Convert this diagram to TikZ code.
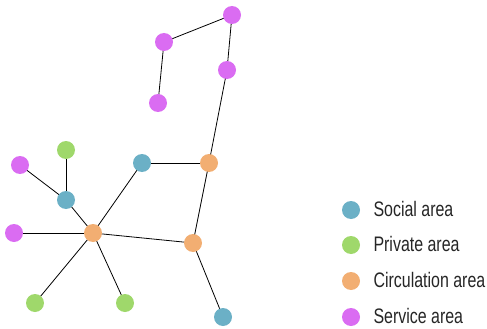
\documentclass[tikz,border=0pt]{standalone}
\usepackage{fontspec}
\setmainfont[FakeStretch=0.76]{Liberation Sans}
\usetikzlibrary{backgrounds}
\definecolor{socialc}{HTML}{6BB0C6}
\definecolor{privatec}{HTML}{9FD86B}
\definecolor{circc}{HTML}{F2AE72}
\definecolor{servc}{HTML}{DA6CF2}
\tikzset{
	room/.style={circle,inner sep=0pt,minimum size=18pt},
	social/.style={room,fill=socialc},
	private/.style={room,fill=privatec},
	circ/.style={room,fill=circc},
	serv/.style={room,fill=servc},
	lab/.style={right,font=\fontsize{21}{23}\selectfont,text=black!85}
}
\begin{document}
\begin{tikzpicture}[x=1pt,y=-1pt]
			\useasboundingbox (0,0) rectangle (487,329);
			% noeuds du graphe
			\path
			(232,15) node[serv] (S1){}
			(164,42) node[serv] (S2){}
			(227,70) node[serv] (S3){}
			(158,103) node[serv] (S4){}
			(20,165) node[serv] (S5){}
			(14,233) node[serv] (S6){}
			(209,163) node[circ] (C1){}
			(93,233) node[circ] (C2){}
			(193,243) node[circ] (C3){}
			(142,163) node[social] (A1){}
			(66,200) node[social] (A2){}
			(223,317) node[social] (A3){}
			(66,150) node[private] (P1){}
			(35,303) node[private] (P2){}
			(125,303) node[private] (P3){};
			% aretes, sous les noeuds
			\begin{pgfonlayer}{background}
			\foreach \u/\v in {S1/S2,S2/S4,S1/S3,S3/C1,C1/A1,C1/C3,C3/A3,C3/C2,
				C2/A1,C2/A2,A2/P1,A2/S5,C2/S6,C2/P2,C2/P3}
			\draw[line width=0.8pt] (\u.center)--(\v.center);
			\end{pgfonlayer}
			% legende
			\path
			(351,210) node[social] (L1){} node[lab,at={(370,209)}]{Social area}
			(351,245) node[private] (L2){} node[lab,at={(370,244)}]{Private area}
			(351,281) node[circ] (L3){} node[lab,at={(370,280)}]{Circulation area}
			(351,317) node[serv] (L4){} node[lab,at={(370,316)}]{Service area};
	\end{tikzpicture}
\end{document}
